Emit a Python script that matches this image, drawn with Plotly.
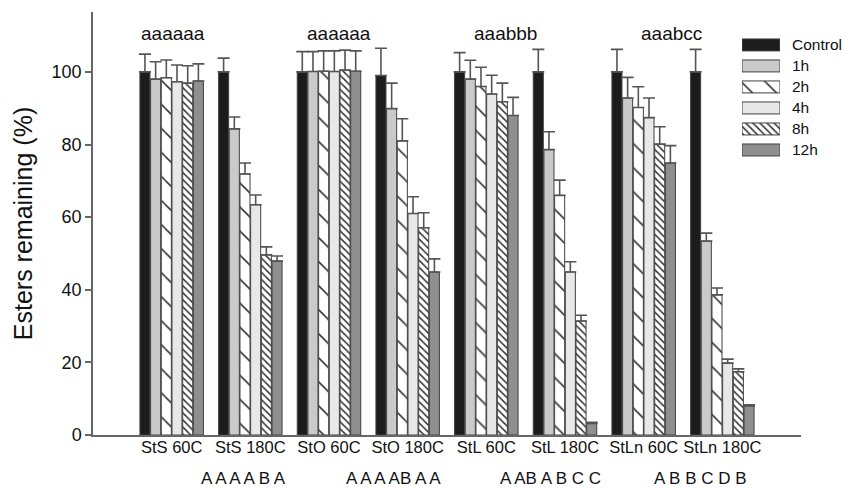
import plotly.graph_objects as go

groups = ["StS 60C", "StS 180C", "StO 60C", "StO 180C", "StL 60C", "StL 180C", "StLn 60C", "StLn 180C"]
series = ["Control", "1h", "2h", "4h", "8h", "12h"]

control = [100, 100, 100, 99, 100, 100, 100, 100]
h1 = [98, 84.3, 100.1, 89.9, 98, 78.6, 92.8, 53.4]
h2 = [98.4, 71.9, 100.2, 81, 96, 66, 90.2, 38.6]
h4 = [97.3, 63.4, 100.1, 61, 93.9, 44.9, 87.4, 19.8]
h8 = [96.9, 49.6, 100.5, 57.1, 91.8, 31.4, 80.1, 17.4]
h12 = [97.5, 47.9, 100.2, 44.9, 88, 3.2, 74.9, 8]

err_control = [4.9, 3.8, 5.6, 7.5, 5.3, 6.2, 6.2, 6.2]
err_h1 = [4.8, 3.3, 5.5, 7.0, 5.2, 4.9, 5.7, 2.2]
err_h2 = [4.9, 3.0, 5.6, 6.1, 5.3, 4.2, 5.7, 1.9]
err_h4 = [4.6, 2.7, 5.7, 4.6, 5.2, 2.8, 5.4, 1.1]
err_h8 = [4.8, 2.2, 5.5, 4.1, 5.1, 1.6, 4.8, 0.8]
err_h12 = [4.7, 1.4, 5.6, 3.6, 5.0, 0.3, 4.8, 0.3]

top_letters = ["aaaaaa", "aaaaaa", "aaabbb", "aaabcc"]
top_letter_x = [0.02, 2.13, 4.24, 6.35]
bottom_letters = ["A A A A B A", "A A A AB A A", "A AB A B C C", "A B B C D B"]
bottom_letter_x = [0.91, 2.82, 4.82, 6.72]

values = [control, h1, h2, h4, h8, h12]
errors = [err_control, err_h1, err_h2, err_h4, err_h8, err_h12]

colors = ["#1c1c1c", "#cacaca", "#ffffff", "#e8e8e8", "#ffffff", "#8f8f8f"]
pat_shape = ["", "", "\\", "", "\\", ""]
pat_size = [8, 8, 17, 8, 5, 8]
pat_sol = [0.3, 0.3, 0.09, 0.3, 0.3, 0.3]

FONT = "Liberation Sans, Arial, sans-serif"
OUTLINE = "#404040"


def make_marker(i):
    m = dict(color=colors[i], line=dict(color=OUTLINE, width=1))
    if pat_shape[i]:
        m["pattern"] = dict(shape=pat_shape[i], size=pat_size[i], solidity=pat_sol[i],
                            fgcolor="#333333", bgcolor="#ffffff", fillmode="replace")
    return m


xpos = list(range(len(groups)))

fig = go.Figure()
for i, name in enumerate(series):
    fig.add_trace(go.Bar(
        x=xpos, y=values[i], name=name, marker=make_marker(i),
        error_y=dict(type="data", array=errors[i], arrayminus=[0] * len(groups),
                     symmetric=False, color="#555555", thickness=1.6, width=6),
        showlegend=False,
    ))

# custom legend keys (wide boxes) on a small overlay axis
for i, name in enumerate(series):
    fig.add_trace(go.Bar(
        x=[1], y=[i], orientation="h", xaxis="x2", yaxis="y2", width=0.57,
        offsetgroup="legend", showlegend=False, hoverinfo="skip",
        marker=make_marker(i),
    ))

annotations = []
for i, name in enumerate(series):
    annotations.append(dict(x=0.9845, y=i, xref="paper", yref="y2", text=name, showarrow=False,
                            xanchor="left", yanchor="middle", font=dict(size=15.5, color="#111")))
for t, x in zip(top_letters, top_letter_x):
    annotations.append(dict(x=x, y=110.7, xref="x", yref="y", text=t, showarrow=False,
                            xanchor="center", yanchor="middle", font=dict(size=19, color="#111")))
for t, x in zip(bottom_letters, bottom_letter_x):
    annotations.append(dict(x=x, y=-0.103, xref="x", yref="paper", text=t, showarrow=False,
                            xanchor="center", yanchor="middle", font=dict(size=17, color="#111")))

fig.update_layout(
    width=843, height=488,
    margin=dict(l=93, r=42, t=12, b=53),
    paper_bgcolor="white", plot_bgcolor="white",
    font=dict(family=FONT, color="#111"),
    barmode="group", bargap=0.185, bargroupgap=0.06,
    xaxis=dict(range=[-1, 8], tickmode="array", tickvals=xpos, ticktext=groups,
               showline=True, linecolor="#666", linewidth=1.5, ticks="",
               ticklabelstandoff=-4,
               showgrid=False, zeroline=False, tickfont=dict(size=16.5, color="#111")),
    yaxis=dict(range=[0, 116.5], tickmode="array", tickvals=[0, 20, 40, 60, 80, 100],
               showline=True, linecolor="#666", linewidth=1.5, ticks="outside", ticklen=6,
               tickcolor="#666", tickwidth=1.5, showgrid=False, zeroline=False,
               tickfont=dict(size=18, color="#111"),
               title=dict(text="Esters remaining (%)", font=dict(size=25, color="#111"), standoff=12)),
    xaxis2=dict(domain=[0.9167, 0.9703], range=[0, 1], anchor="y2", visible=False, fixedrange=True),
    yaxis2=dict(domain=[0.649, 0.947], range=[5.5, -0.5], anchor="x2", visible=False, fixedrange=True),
    annotations=annotations,
)

fig.write_html("out.html")
